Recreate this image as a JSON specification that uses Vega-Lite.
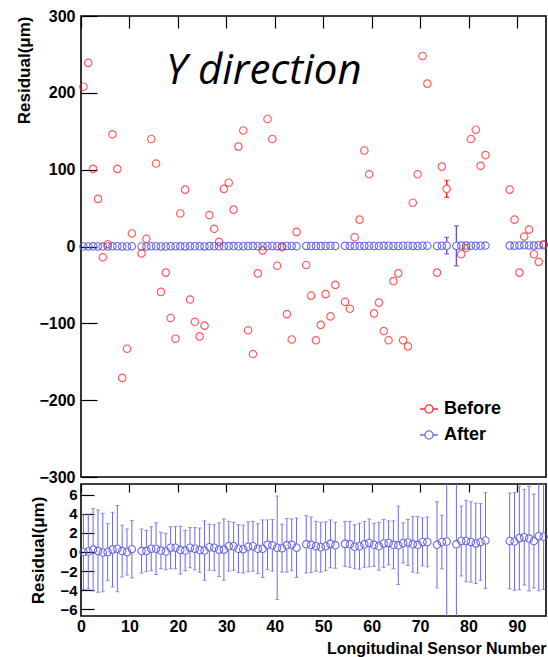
{
  "$schema": "https://vega.github.io/schema/vega-lite/v6.json",
  "padding": {"left": 14, "top": 7, "right": 0, "bottom": 0},
  "background": "white",
  "config": {
    "view": {"stroke": "black", "strokeWidth": 1.6, "fill": null},
    "axis": {"labelFont": "Liberation Sans", "labelFontWeight": "bold", "labelColor": "black", "titleFont": "Liberation Sans", "titleFontWeight": "bold", "titleColor": "black", "ticks": false, "domain": false, "grid": true, "gridColor": "black", "gridOpacity": 1, "gridWidth": 1.2, "gridDashOffset": 0, "labelOverlap": false, "labelFlush": false}
  },
  "datasets": {
    "pts": [
      {"x": 0.5, "series": "Before", "value": 208}, {"x": 1.5, "series": "Before", "value": 239}, {"x": 2.5, "series": "Before", "value": 101}, {"x": 3.5, "series": "Before", "value": 62}, {"x": 4.5, "series": "Before", "value": -14}, {"x": 5.5, "series": "Before", "value": 3}, {"x": 6.5, "series": "Before", "value": 146}, {"x": 7.5, "series": "Before", "value": 101}, {"x": 8.5, "series": "Before", "value": -171}, {"x": 9.5, "series": "Before", "value": -133}, {"x": 10.5, "series": "Before", "value": 17}, {"x": 12.5, "series": "Before", "value": -9}, {"x": 13.5, "series": "Before", "value": 10}, {"x": 14.5, "series": "Before", "value": 140}, {"x": 15.5, "series": "Before", "value": 108}, {"x": 16.5, "series": "Before", "value": -59}, {"x": 17.5, "series": "Before", "value": -34}, {"x": 18.5, "series": "Before", "value": -93}, {"x": 19.5, "series": "Before", "value": -120}, {"x": 20.5, "series": "Before", "value": 43}, {"x": 21.5, "series": "Before", "value": 74}, {"x": 22.5, "series": "Before", "value": -69}, {"x": 23.5, "series": "Before", "value": -98}, {"x": 24.5, "series": "Before", "value": -117}, {"x": 25.5, "series": "Before", "value": -103}, {"x": 26.5, "series": "Before", "value": 41}, {"x": 27.5, "series": "Before", "value": 23}, {"x": 28.5, "series": "Before", "value": 6}, {"x": 29.5, "series": "Before", "value": 75}, {"x": 30.5, "series": "Before", "value": 83}, {"x": 31.5, "series": "Before", "value": 48}, {"x": 32.5, "series": "Before", "value": 130}, {"x": 33.5, "series": "Before", "value": 151}, {"x": 34.5, "series": "Before", "value": -109}, {"x": 35.5, "series": "Before", "value": -140}, {"x": 36.5, "series": "Before", "value": -35}, {"x": 37.5, "series": "Before", "value": -5}, {"x": 38.5, "series": "Before", "value": 166}, {"x": 39.5, "series": "Before", "value": 140}, {"x": 40.5, "series": "Before", "value": -25}, {"x": 41.5, "series": "Before", "value": -1}, {"x": 42.5, "series": "Before", "value": -88}, {"x": 43.5, "series": "Before", "value": -121}, {"x": 44.5, "series": "Before", "value": 19}, {"x": 46.5, "series": "Before", "value": -24}, {"x": 47.5, "series": "Before", "value": -64}, {"x": 48.5, "series": "Before", "value": -122}, {"x": 49.5, "series": "Before", "value": -102}, {"x": 50.5, "series": "Before", "value": -62}, {"x": 51.5, "series": "Before", "value": -91}, {"x": 52.5, "series": "Before", "value": -50}, {"x": 54.5, "series": "Before", "value": -72}, {"x": 55.5, "series": "Before", "value": -81}, {"x": 56.5, "series": "Before", "value": 12}, {"x": 57.5, "series": "Before", "value": 35}, {"x": 58.5, "series": "Before", "value": 125}, {"x": 59.5, "series": "Before", "value": 94}, {"x": 60.5, "series": "Before", "value": -87}, {"x": 61.5, "series": "Before", "value": -73}, {"x": 62.5, "series": "Before", "value": -110}, {"x": 63.5, "series": "Before", "value": -122}, {"x": 64.5, "series": "Before", "value": -45}, {"x": 65.5, "series": "Before", "value": -35}, {"x": 66.5, "series": "Before", "value": -122}, {"x": 67.5, "series": "Before", "value": -130}, {"x": 68.5, "series": "Before", "value": 57}, {"x": 69.5, "series": "Before", "value": 94}, {"x": 70.5, "series": "Before", "value": 248}, {"x": 71.5, "series": "Before", "value": 212}, {"x": 73.5, "series": "Before", "value": -34}, {"x": 74.5, "series": "Before", "value": 104}, {"x": 75.5, "series": "Before", "value": 75, "lo": 64, "hi": 86}, {"x": 78.5, "series": "Before", "value": -10}, {"x": 79.5, "series": "Before", "value": -2}, {"x": 80.5, "series": "Before", "value": 140}, {"x": 81.5, "series": "Before", "value": 152}, {"x": 82.5, "series": "Before", "value": 105}, {"x": 83.5, "series": "Before", "value": 119}, {"x": 88.5, "series": "Before", "value": 74}, {"x": 89.5, "series": "Before", "value": 35}, {"x": 90.5, "series": "Before", "value": -34}, {"x": 91.5, "series": "Before", "value": 13}, {"x": 92.5, "series": "Before", "value": 22}, {"x": 93.5, "series": "Before", "value": -10}, {"x": 94.5, "series": "Before", "value": -20}, {"x": 95.5, "series": "Before", "value": 3},
      {"x": 0.5, "series": "After", "value": 0.0, "lo": -3.9, "hi": 3.9}, {"x": 1.5, "series": "After", "value": 0.05, "lo": -3.85, "hi": 3.95}, {"x": 2.5, "series": "After", "value": 0.25, "lo": -4.05, "hi": 4.55}, {"x": 3.5, "series": "After", "value": 0.1, "lo": -4.2, "hi": 4.4}, {"x": 4.5, "series": "After", "value": -0.05, "lo": -4.15, "hi": 4.05}, {"x": 5.5, "series": "After", "value": 0.0, "lo": -3.0, "hi": 3.0}, {"x": 6.5, "series": "After", "value": 0.25, "lo": -3.65, "hi": 4.15}, {"x": 7.5, "series": "After", "value": 0.35, "lo": -4.15, "hi": 4.85}, {"x": 8.5, "series": "After", "value": 0.1, "lo": -2.6, "hi": 2.8}, {"x": 9.5, "series": "After", "value": 0.0, "lo": -2.4, "hi": 2.4}, {"x": 10.5, "series": "After", "value": 0.3, "lo": -2.7, "hi": 3.3}, {"x": 12.5, "series": "After", "value": 0.1, "lo": -2.2, "hi": 2.4}, {"x": 13.5, "series": "After", "value": 0.1, "lo": -2.05, "hi": 2.25}, {"x": 14.5, "series": "After", "value": 0.35, "lo": -1.95, "hi": 2.65}, {"x": 15.5, "series": "After", "value": 0.35, "lo": -2.35, "hi": 3.05}, {"x": 16.5, "series": "After", "value": 0.15, "lo": -1.75, "hi": 2.05}, {"x": 17.5, "series": "After", "value": 0.05, "lo": -1.85, "hi": 1.95}, {"x": 18.5, "series": "After", "value": 0.45, "lo": -1.75, "hi": 2.65}, {"x": 19.5, "series": "After", "value": 0.45, "lo": -1.75, "hi": 2.65}, {"x": 20.5, "series": "After", "value": 0.2, "lo": -2.3, "hi": 2.7}, {"x": 21.5, "series": "After", "value": 0.15, "lo": -1.95, "hi": 2.25}, {"x": 22.5, "series": "After", "value": 0.45, "lo": -1.65, "hi": 2.55}, {"x": 23.5, "series": "After", "value": 0.35, "lo": -1.85, "hi": 2.55}, {"x": 24.5, "series": "After", "value": 0.2, "lo": -2.1, "hi": 2.5}, {"x": 25.5, "series": "After", "value": 0.15, "lo": -2.95, "hi": 3.25}, {"x": 26.5, "series": "After", "value": 0.5, "lo": -1.9, "hi": 2.9}, {"x": 27.5, "series": "After", "value": 0.45, "lo": -1.95, "hi": 2.85}, {"x": 28.5, "series": "After", "value": 0.25, "lo": -2.55, "hi": 3.05}, {"x": 29.5, "series": "After", "value": 0.25, "lo": -2.95, "hi": 3.45}, {"x": 30.5, "series": "After", "value": 0.6, "lo": -2.0, "hi": 3.2}, {"x": 31.5, "series": "After", "value": 0.6, "lo": -1.9, "hi": 3.1}, {"x": 32.5, "series": "After", "value": 0.35, "lo": -2.15, "hi": 2.85}, {"x": 33.5, "series": "After", "value": 0.3, "lo": -2.2, "hi": 2.8}, {"x": 34.5, "series": "After", "value": 0.55, "lo": -2.05, "hi": 3.15}, {"x": 35.5, "series": "After", "value": 0.6, "lo": -2.0, "hi": 3.2}, {"x": 36.5, "series": "After", "value": 0.35, "lo": -2.25, "hi": 2.95}, {"x": 37.5, "series": "After", "value": 0.35, "lo": -2.65, "hi": 3.35}, {"x": 38.5, "series": "After", "value": 0.75, "lo": -1.85, "hi": 3.35}, {"x": 39.5, "series": "After", "value": 0.7, "lo": -2.0, "hi": 3.4}, {"x": 40.5, "series": "After", "value": 0.45, "lo": -4.95, "hi": 5.85}, {"x": 41.5, "series": "After", "value": 0.4, "lo": -2.1, "hi": 2.9}, {"x": 42.5, "series": "After", "value": 0.7, "lo": -2.1, "hi": 3.5}, {"x": 43.5, "series": "After", "value": 0.75, "lo": -1.95, "hi": 3.45}, {"x": 44.5, "series": "After", "value": 0.45, "lo": -2.65, "hi": 3.55}, {"x": 46.5, "series": "After", "value": 0.8, "lo": -2.2, "hi": 3.8}, {"x": 47.5, "series": "After", "value": 0.75, "lo": -2.15, "hi": 3.65}, {"x": 48.5, "series": "After", "value": 0.6, "lo": -2.0, "hi": 3.2}, {"x": 49.5, "series": "After", "value": 0.5, "lo": -2.1, "hi": 3.1}, {"x": 50.5, "series": "After", "value": 0.6, "lo": -1.95, "hi": 3.15}, {"x": 51.5, "series": "After", "value": 0.85, "lo": -1.65, "hi": 3.35}, {"x": 52.5, "series": "After", "value": 0.7, "lo": -1.7, "hi": 3.1}, {"x": 54.5, "series": "After", "value": 0.85, "lo": -1.5, "hi": 3.2}, {"x": 55.5, "series": "After", "value": 0.8, "lo": -1.6, "hi": 3.2}, {"x": 56.5, "series": "After", "value": 0.55, "lo": -1.75, "hi": 2.85}, {"x": 57.5, "series": "After", "value": 0.6, "lo": -1.8, "hi": 3.0}, {"x": 58.5, "series": "After", "value": 0.8, "lo": -1.6, "hi": 3.2}, {"x": 59.5, "series": "After", "value": 0.95, "lo": -1.55, "hi": 3.45}, {"x": 60.5, "series": "After", "value": 0.75, "lo": -1.5, "hi": 3.0}, {"x": 61.5, "series": "After", "value": 0.6, "lo": -1.9, "hi": 3.1}, {"x": 62.5, "series": "After", "value": 0.9, "lo": -1.6, "hi": 3.4}, {"x": 63.5, "series": "After", "value": 0.95, "lo": -1.35, "hi": 3.25}, {"x": 64.5, "series": "After", "value": 0.75, "lo": -1.75, "hi": 3.25}, {"x": 65.5, "series": "After", "value": 0.7, "lo": -3.4, "hi": 4.8}, {"x": 66.5, "series": "After", "value": 0.95, "lo": -1.15, "hi": 3.05}, {"x": 67.5, "series": "After", "value": 1.0, "lo": -1.4, "hi": 3.4}, {"x": 68.5, "series": "After", "value": 0.8, "lo": -2.1, "hi": 3.7}, {"x": 69.5, "series": "After", "value": 0.75, "lo": -2.2, "hi": 3.7}, {"x": 70.5, "series": "After", "value": 1.05, "lo": -1.45, "hi": 3.55}, {"x": 71.5, "series": "After", "value": 1.05, "lo": -1.55, "hi": 3.65}, {"x": 73.5, "series": "After", "value": 0.75, "lo": -3.75, "hi": 5.25}, {"x": 74.5, "series": "After", "value": 1.05, "lo": -1.75, "hi": 3.85}, {"x": 75.5, "series": "After", "value": 1.1, "lo": -9.7, "hi": 11.9}, {"x": 77.5, "series": "After", "value": 0.8, "lo": -25.2, "hi": 26.8}, {"x": 78.5, "series": "After", "value": 1.15, "lo": -2.5, "hi": 4.8}, {"x": 79.5, "series": "After", "value": 1.15, "lo": -3.1, "hi": 5.4}, {"x": 80.5, "series": "After", "value": 1.05, "lo": -3.15, "hi": 5.25}, {"x": 81.5, "series": "After", "value": 0.9, "lo": -3.3, "hi": 5.1}, {"x": 82.5, "series": "After", "value": 1.05, "lo": -2.95, "hi": 5.05}, {"x": 83.5, "series": "After", "value": 1.2, "lo": -3.8, "hi": 6.2}, {"x": 88.5, "series": "After", "value": 1.15, "lo": -3.85, "hi": 6.15}, {"x": 89.5, "series": "After", "value": 1.1, "lo": -4.0, "hi": 6.2}, {"x": 90.5, "series": "After", "value": 1.45, "lo": -3.95, "hi": 6.85}, {"x": 91.5, "series": "After", "value": 1.55, "lo": -3.45, "hi": 6.55}, {"x": 92.5, "series": "After", "value": 1.4, "lo": -4.05, "hi": 6.85}, {"x": 93.5, "series": "After", "value": 1.15, "lo": -3.75, "hi": 6.05}, {"x": 94.5, "series": "After", "value": 1.65, "lo": -4.05, "hi": 7.35}, {"x": 95.5, "series": "After", "value": 1.6, "lo": -3.9, "hi": 7.1}
    ]
  },
  "bounds": "flush",
  "spacing": 7,
  "vconcat": [
    {
      "width": 465,
      "height": 461,
      "data": {"name": "pts"},
      "resolve": {"axis": {"x": "independent", "y": "independent"}},
      "layer": [
        {
          "transform": [{"filter": "datum.series === 'After'"}],
          "mark": {"type": "point", "shape": "circle", "filled": false, "size": 55, "strokeWidth": 1.1, "opacity": 0.9},
          "encoding": {
            "x": {"field": "x", "type": "quantitative", "scale": {"domain": [0, 96], "nice": false, "zero": false},
              "axis": {"orient": "bottom", "title": null, "labels": false, "values": [0, 10, 20, 30, 40, 50, 60, 70, 80, 90], "gridDash": [12, 3000]}},
            "y": {"field": "value", "type": "quantitative", "scale": {"domain": [-300, 300], "nice": false, "zero": false},
              "axis": {"orient": "left", "format": "d", "values": [-300, -200, -100, 0, 100, 200, 300], "gridDash": [16, 3000],
                "labelPadding": 6, "labelFontSize": 16,
                "title": "Residual(μm)", "titleFontSize": 17, "titleX": -57, "titleY": 0, "titleAlign": "right", "titleAnchor": "end", "titleBaseline": "middle", "titleAngle": -90}},
            "color": {"field": "series", "type": "nominal", "scale": {"domain": ["Before", "After"], "range": ["#ff1a1a", "#5c5ce6"]},
              "legend": {"orient": "none", "legendX": 338, "legendY": 383, "title": null, "padding": 0,
                "symbolType": "M-1,0L-0.45,0M0.45,0L1,0M0.45,0A0.45,0.45,0,1,1,-0.45,0A0.45,0.45,0,1,1,0.45,0",
                "symbolSize": 324, "symbolStrokeWidth": 1.3, "symbolFillColor": "transparent",
                "labelFont": "Liberation Sans", "labelFontWeight": "bold", "labelFontSize": 18, "labelColor": "black", "labelOffset": 5, "rowPadding": 7}}
          }
        },
        {
          "transform": [{"filter": "datum.series === 'Before'"}],
          "mark": {"type": "point", "shape": "circle", "filled": false, "size": 55, "strokeWidth": 1.2},
          "encoding": {
            "x": {"field": "x", "type": "quantitative", "scale": {"domain": [0, 96], "nice": false, "zero": false},
              "axis": {"orient": "top", "title": null, "labels": false, "values": [0, 10, 20, 30, 40, 50, 60, 70, 80, 90], "gridDash": [12, 3000]}},
            "y": {"field": "value", "type": "quantitative", "scale": {"domain": [-300, 300], "nice": false, "zero": false},
              "axis": {"orient": "right", "title": null, "labels": false, "values": [-300, -200, -100, 0, 100, 200, 300], "gridDash": [16, 3000]}},
            "color": {"field": "series", "type": "nominal", "scale": {"domain": ["Before", "After"], "range": ["#ff1a1a", "#5c5ce6"]}}
          }
        },
        {
          "transform": [{"filter": "isValid(datum.hi) && datum.hi - datum.value > 6"}],
          "mark": {"type": "rule", "strokeWidth": 1.4, "y2Offset": -4},
          "encoding": {
            "x": {"field": "x", "type": "quantitative",
              "axis": {"orient": "bottom", "title": null, "labels": false, "gridDash": [6, 3000],
                "values": [1.6667, 3.3333, 5, 6.6667, 8.3333, 11.6667, 13.3333, 15, 16.6667, 18.3333, 21.6667, 23.3333, 25, 26.6667, 28.3333, 31.6667, 33.3333, 35, 36.6667, 38.3333, 41.6667, 43.3333, 45, 46.6667, 48.3333, 51.6667, 53.3333, 55, 56.6667, 58.3333, 61.6667, 63.3333, 65, 66.6667, 68.3333, 71.6667, 73.3333, 75, 76.6667, 78.3333, 81.6667, 83.3333, 85, 86.6667, 88.3333, 91.6667, 93.3333, 95]}},
            "y": {"field": "hi", "type": "quantitative",
              "axis": {"orient": "left", "title": null, "labels": false, "gridDash": [8, 3000],
                "values": [-280, -260, -240, -220, -180, -160, -140, -120, -80, -60, -40, -20, 20, 40, 60, 80, 120, 140, 160, 180, 220, 240, 260, 280]}},
            "y2": {"field": "value"},
            "color": {"condition": {"test": "datum.series === 'Before'", "value": "#ff1a1a"}, "value": "#6650d0"}
          }
        },
        {
          "transform": [{"filter": "isValid(datum.hi) && datum.hi - datum.value > 6"}],
          "mark": {"type": "rule", "strokeWidth": 1.4, "yOffset": 4},
          "encoding": {
            "x": {"field": "x", "type": "quantitative",
              "axis": {"orient": "top", "title": null, "labels": false, "gridDash": [6, 3000],
                "values": [1.6667, 3.3333, 5, 6.6667, 8.3333, 11.6667, 13.3333, 15, 16.6667, 18.3333, 21.6667, 23.3333, 25, 26.6667, 28.3333, 31.6667, 33.3333, 35, 36.6667, 38.3333, 41.6667, 43.3333, 45, 46.6667, 48.3333, 51.6667, 53.3333, 55, 56.6667, 58.3333, 61.6667, 63.3333, 65, 66.6667, 68.3333, 71.6667, 73.3333, 75, 76.6667, 78.3333, 81.6667, 83.3333, 85, 86.6667, 88.3333, 91.6667, 93.3333, 95]}},
            "y": {"field": "value", "type": "quantitative",
              "axis": {"orient": "right", "title": null, "labels": false, "gridDash": [8, 3000],
                "values": [-280, -260, -240, -220, -180, -160, -140, -120, -80, -60, -40, -20, 20, 40, 60, 80, 120, 140, 160, 180, 220, 240, 260, 280]}},
            "y2": {"field": "lo"},
            "color": {"condition": {"test": "datum.series === 'Before'", "value": "#ff1a1a"}, "value": "#6650d0"}
          }
        },
        {
          "transform": [{"filter": "isValid(datum.hi) && datum.hi - datum.value > 6"}],
          "mark": {"type": "tick", "orient": "horizontal", "size": 5, "thickness": 1.4},
          "encoding": {
            "x": {"field": "x", "type": "quantitative", "axis": null},
            "y": {"field": "hi", "type": "quantitative", "axis": null},
            "color": {"condition": {"test": "datum.series === 'Before'", "value": "#ff1a1a"}, "value": "#6650d0"}
          }
        },
        {
          "transform": [{"filter": "isValid(datum.hi) && datum.hi - datum.value > 6"}],
          "mark": {"type": "tick", "orient": "horizontal", "size": 5, "thickness": 1.4},
          "encoding": {
            "x": {"field": "x", "type": "quantitative", "axis": null},
            "y": {"field": "lo", "type": "quantitative", "axis": null},
            "color": {"condition": {"test": "datum.series === 'Before'", "value": "#ff1a1a"}, "value": "#6650d0"}
          }
        },
        {
          "data": {"values": [{}]},
          "mark": {"type": "text", "text": "Y direction", "font": "Open Sans", "fontStyle": "italic", "fontSize": 42, "align": "left", "baseline": "alphabetic", "color": "black"},
          "encoding": {
            "x": {"datum": 17.5, "type": "quantitative", "axis": null},
            "y": {"datum": 212, "type": "quantitative", "axis": null}
          }
        }
      ]
    },
    {
      "width": 465,
      "height": 132,
      "data": {"name": "pts"},
      "transform": [{"filter": "datum.series === 'After'"}],
      "resolve": {"axis": {"x": "independent", "y": "independent"}},
      "layer": [
        {
          "mark": {"type": "rule", "strokeWidth": 1, "y2Offset": -4, "color": "#6a6ae8", "clip": true},
          "encoding": {
            "x": {"field": "x", "type": "quantitative", "scale": {"domain": [0, 96], "nice": false, "zero": false},
              "axis": {"orient": "bottom", "format": "d", "values": [0, 10, 20, 30, 40, 50, 60, 70, 80, 90], "gridDash": [8, 3000],
                "labelPadding": 2, "labelFontSize": 16,
                "title": "Longitudinal Sensor Number", "titleFontSize": 16, "titleX": 465, "titleY": 37, "titleAlign": "right", "titleAnchor": "end", "titleBaseline": "alphabetic"}},
            "y": {"field": "hi", "type": "quantitative", "scale": {"domain": [-6.68, 7.1], "nice": false, "zero": false},
              "axis": {"orient": "left", "format": "d", "values": [-6, -4, -2, 0, 2, 4, 6], "gridDash": [13, 3000],
                "labelPadding": 4, "labelFontSize": 15,
                "title": "Residual(μm)", "titleFontSize": 17, "titleX": -43, "titleY": 66, "titleAlign": "center", "titleBaseline": "middle", "titleAngle": -90}},
            "y2": {"field": "value"}
          }
        },
        {
          "mark": {"type": "rule", "strokeWidth": 1, "yOffset": 4, "color": "#6a6ae8", "clip": true},
          "encoding": {
            "x": {"field": "x", "type": "quantitative",
              "axis": {"orient": "bottom", "title": null, "labels": false, "gridDash": [4, 3000],
                "values": [1.6667, 3.3333, 5, 6.6667, 8.3333, 11.6667, 13.3333, 15, 16.6667, 18.3333, 21.6667, 23.3333, 25, 26.6667, 28.3333, 31.6667, 33.3333, 35, 36.6667, 38.3333, 41.6667, 43.3333, 45, 46.6667, 48.3333, 51.6667, 53.3333, 55, 56.6667, 58.3333, 61.6667, 63.3333, 65, 66.6667, 68.3333, 71.6667, 73.3333, 75, 76.6667, 78.3333, 81.6667, 83.3333, 85, 86.6667, 88.3333, 91.6667, 93.3333, 95]}},
            "y": {"field": "value", "type": "quantitative",
              "axis": {"orient": "left", "title": null, "labels": false, "gridDash": [6, 3000],
                "values": [-6.5, -5.5, -5, -4.5, -3.5, -3, -2.5, -1.5, -1, -0.5, 0.5, 1, 1.5, 2.5, 3, 3.5, 4.5, 5, 5.5, 6.5, 7]}},
            "y2": {"field": "lo"}
          }
        },
        {
          "mark": {"type": "tick", "orient": "horizontal", "size": 4, "thickness": 1, "color": "#6a6ae8", "clip": true},
          "encoding": {
            "x": {"field": "x", "type": "quantitative",
              "axis": {"orient": "top", "title": null, "labels": false, "values": [0, 10, 20, 30, 40, 50, 60, 70, 80, 90], "gridDash": [8, 3000]}},
            "y": {"field": "hi", "type": "quantitative",
              "axis": {"orient": "right", "title": null, "labels": false, "values": [-6, -4, -2, 0, 2, 4, 6], "gridDash": [13, 3000]}}
          }
        },
        {
          "mark": {"type": "tick", "orient": "horizontal", "size": 4, "thickness": 1, "color": "#6a6ae8", "clip": true},
          "encoding": {
            "x": {"field": "x", "type": "quantitative",
              "axis": {"orient": "top", "title": null, "labels": false, "gridDash": [4, 3000],
                "values": [1.6667, 3.3333, 5, 6.6667, 8.3333, 11.6667, 13.3333, 15, 16.6667, 18.3333, 21.6667, 23.3333, 25, 26.6667, 28.3333, 31.6667, 33.3333, 35, 36.6667, 38.3333, 41.6667, 43.3333, 45, 46.6667, 48.3333, 51.6667, 53.3333, 55, 56.6667, 58.3333, 61.6667, 63.3333, 65, 66.6667, 68.3333, 71.6667, 73.3333, 75, 76.6667, 78.3333, 81.6667, 83.3333, 85, 86.6667, 88.3333, 91.6667, 93.3333, 95]}},
            "y": {"field": "lo", "type": "quantitative",
              "axis": {"orient": "right", "title": null, "labels": false, "gridDash": [6, 3000],
                "values": [-6.5, -5.5, -5, -4.5, -3.5, -3, -2.5, -1.5, -1, -0.5, 0.5, 1, 1.5, 2.5, 3, 3.5, 4.5, 5, 5.5, 6.5, 7]}}
          }
        },
        {
          "mark": {"type": "point", "shape": "circle", "filled": false, "size": 55, "strokeWidth": 1.1, "color": "#5c5ce6", "opacity": 0.9},
          "encoding": {
            "x": {"field": "x", "type": "quantitative", "axis": null},
            "y": {"field": "value", "type": "quantitative", "axis": null}
          }
        }
      ]
    }
  ]
}
